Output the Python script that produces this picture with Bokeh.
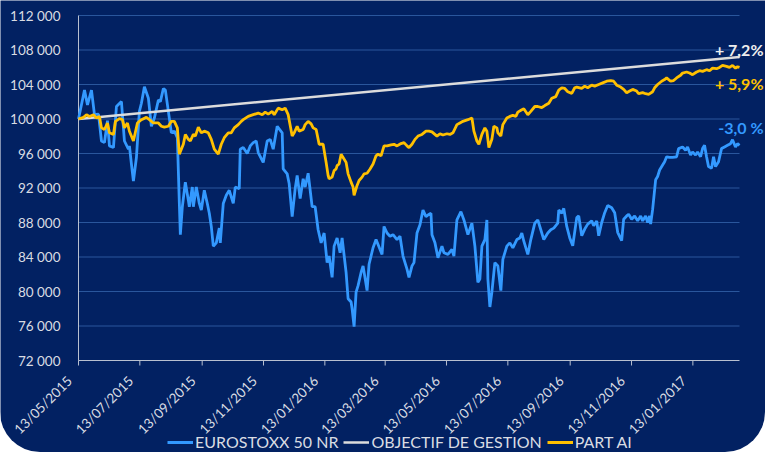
import numpy as np
import pandas as pd
from bokeh.plotting import figure
from bokeh.models import Label, Range1d, Legend, LegendItem
from bokeh.core.properties import value
from bokeh.embed import file_html
from bokeh.resources import INLINE

# ---------------- data ----------------
start_date = "2015-05-13"
# day offsets are read on the picture's time axis (1 unit = 1 px there, 615.3 px = 611 days)
axis_days_per_unit = 611 / 615.3

x_tick_labels = ["13/05/2015", "13/07/2015", "13/09/2015", "13/11/2015", "13/01/2016",
                 "13/03/2016", "13/05/2016", "13/07/2016", "13/09/2016", "13/11/2016",
                 "13/01/2017"]
y_ticks = [72000, 76000, 80000, 84000, 88000, 92000, 96000, 100000, 104000, 108000, 112000]
y_tick_labels = ["72 000", "76 000", "80 000", "84 000", "88 000", "92 000", "96 000",
                 "100 000", "104 000", "108 000", "112 000"]

series_names = ["EUROSTOXX 50 NR", "OBJECTIF DE GESTION", "PART AI"]
end_labels = ["-3,0 %", "+ 7,2%", "+ 5,9%"]

euro_day = [0, 6, 9, 13, 16, 20, 23, 26, 29, 31, 35, 38, 43, 46, 50, 51, 53, 55, 58, 61, 63, 66,
            70, 73, 76, 80, 82, 85, 87, 90, 93, 96, 99, 101, 102, 104, 107, 110, 111, 114, 115,
            118, 121, 123, 126, 129, 131, 133, 135, 138, 141, 142, 145, 148, 151, 155, 157, 161,
            162, 165, 169, 172, 175, 178, 180, 185, 189, 192, 195, 199, 204, 205, 209, 211, 214,
            217, 219, 222, 225, 227, 230, 234, 237, 240, 243, 246, 249, 251, 254, 256, 259, 262,
            264, 268, 270, 273, 274, 276, 278, 280, 283, 285, 289, 291, 295, 298, 300, 304, 306,
            309, 312, 315, 319, 322, 325, 329, 331, 334, 336, 339, 342, 345, 348, 350, 353, 354,
            357, 360, 364, 366, 370, 374, 376, 379, 383, 386, 390, 394, 397, 400, 402, 404, 407,
            409, 410, 412, 414, 417, 420, 423, 425, 429, 432, 435, 439, 442, 444, 446, 450, 453,
            457, 460, 463, 466, 470, 473, 476, 480, 481, 484, 486, 489, 492, 495, 499, 501, 504,
            507, 510, 514, 516, 519, 521, 524, 527, 530, 534, 537, 540, 544, 546, 549, 551, 554,
            557, 560, 563, 565, 568, 570, 572, 573, 575, 578, 580, 582, 585, 587, 589, 592, 595,
            599, 601, 605, 608, 610, 613, 615, 618, 620, 623, 625, 627, 629, 631, 634, 636, 638,
            641, 644, 647, 650, 653, 655, 658, 660, 662]
euro_val = [100000, 103350, 101640, 103350, 100500, 100570, 97450, 97260, 99810, 96880, 96690,
            101450, 102020, 97450, 96500, 96880, 94780, 92800, 95540, 100880, 101830, 103730,
            102400, 99160, 100110, 102210, 102020, 103540, 103350, 100880, 98400, 98590, 97830,
            90210, 86590, 89830, 92680, 90590, 89830, 92110, 89830, 92110, 90210, 89450, 91730,
            90210, 89070, 87540, 85250, 85640, 87350, 85640, 90210, 91160, 91730, 90210, 92110,
            91920, 96500, 96700, 96000, 96880, 97260, 97450, 96110, 94970, 97450, 97640, 96500,
            99160, 98400, 94210, 93640, 92490, 88680, 91920, 93450, 90780, 93070, 92110, 93710,
            89830, 89830, 87160, 85640, 86780, 83350, 84110, 81640, 85260, 86210, 84490, 86210,
            82210, 79160, 78780, 78020, 75920, 79920, 80680, 82210, 82970, 80110, 83160, 85070,
            86020, 85450, 84300, 87540, 86780, 86400, 86590, 86020, 86400, 84110, 82590, 81640,
            82970, 83350, 86780, 87730, 89450, 88680, 88870, 89070, 86590, 85640, 83920, 85250,
            84490, 84300, 84870, 84110, 88300, 89260, 88300, 86590, 87920, 85260, 81070, 81450,
            85260, 86020, 88300, 81450, 78210, 79920, 83350, 82970, 80110, 83730, 85260, 85640,
            85070, 86020, 86210, 86780, 85830, 84300, 86020, 87920, 88300, 87160, 86020, 86780,
            87160, 87350, 87920, 89450, 89070, 89640, 87540, 86210, 85300, 88570, 88760, 86470,
            87240, 87810, 88190, 87620, 88190, 86470, 88000, 89140, 89980, 89710, 89140, 86860,
            85900, 88380, 88760, 88950, 88380, 88760, 88190, 88760, 88190, 88760, 88000, 88760,
            87810, 89520, 92950, 93330, 94090, 94670, 95050, 95620, 95540, 95540, 95620, 96570,
            96760, 96380, 96760, 95810, 96190, 95810, 96190, 95620, 96570, 96950, 95620, 94480,
            94290, 95620, 94480, 95050, 96570, 96760, 96950, 97140, 97600, 96760, 97140, 96950]

goal_day = [0, 662]
goal_val = [100000, 107200]

part_day = [0, 5, 8, 11, 15, 18, 21, 23, 26, 29, 31, 35, 37, 41, 44, 46, 49, 51, 55, 59, 63, 68,
            71, 75, 80, 83, 86, 90, 93, 96, 99, 101, 105, 107, 110, 112, 115, 117, 120, 123, 126,
            130, 133, 136, 140, 143, 146, 150, 153, 156, 160, 163, 165, 170, 175, 180, 184, 187,
            190, 194, 196, 200, 204, 207, 210, 214, 216, 219, 221, 225, 227, 230, 233, 235, 238,
            241, 245, 248, 250, 251, 254, 256, 258, 259, 261, 263, 265, 268, 270, 273, 275, 276,
            279, 281, 284, 286, 289, 292, 295, 298, 300, 303, 306, 309, 313, 316, 319, 323, 326,
            329, 331, 334, 337, 340, 344, 348, 351, 354, 359, 362, 365, 369, 372, 375, 379, 382,
            385, 390, 394, 396, 399, 401, 404, 407, 409, 411, 414, 416, 419, 420, 423, 425, 429,
            432, 435, 438, 440, 444, 446, 450, 453, 457, 460, 464, 467, 471, 474, 478, 481, 484,
            487, 490, 494, 497, 499, 504, 507, 510, 514, 517, 521, 525, 529, 533, 536, 539, 543,
            546, 549, 552, 555, 559, 561, 565, 568, 571, 575, 577, 580, 584, 587, 589, 593, 596,
            599, 603, 605, 609, 612, 615, 619, 622, 625, 629, 632, 635, 639, 642, 645, 649, 652,
            655, 658, 660, 662]
part_val = [100000, 100190, 100500, 100300, 100500, 100110, 100300, 98970, 98780, 99540, 98400,
            98210, 99730, 100040, 99920, 98970, 99540, 98590, 97450, 99540, 99920, 100190, 99920,
            99540, 99540, 99160, 99050, 99160, 99730, 99730, 98970, 95920, 97070, 98210, 97640,
            97450, 98210, 98020, 99050, 98400, 98590, 98400, 97640, 96500, 95920, 97070, 97830,
            98400, 98400, 98970, 99350, 99730, 99920, 100300, 100500, 100690, 100500, 100800,
            100570, 100880, 100500, 101260, 101070, 101260, 100500, 98020, 98400, 99160, 98590,
            98780, 99350, 99730, 99430, 98970, 98780, 97070, 97070, 94970, 93450, 93070, 93260,
            94020, 94210, 94590, 94780, 95920, 95540, 94970, 93640, 92680, 92110, 91160, 92300,
            92870, 93260, 93640, 93710, 94210, 94780, 95730, 95920, 95730, 96880, 96880, 96990,
            97070, 96880, 97150, 97260, 96880, 96690, 97070, 97640, 98020, 98210, 98590, 98590,
            98510, 98020, 98290, 98140, 98290, 98210, 98400, 99350, 99540, 99730, 99920, 100110,
            98590, 97450, 97070, 98210, 98970, 98590, 96690, 97640, 99160, 98970, 98400, 98020,
            99350, 100110, 100300, 100420, 100300, 100800, 101070, 101180, 100500, 100880, 101450,
            101450, 101330, 101560, 101830, 102400, 102590, 103350, 103620, 103540, 103160, 102970,
            103620, 103700, 103540, 103810, 103620, 103920, 103810, 104000, 104190, 104380, 104460,
            104380, 103920, 103700, 103430, 103050, 103240, 103430, 103240, 102930, 103050, 102930,
            102860, 103160, 103620, 104000, 104380, 104570, 104760, 104380, 104460, 104760, 105070,
            105330, 105450, 105330, 105140, 105450, 105600, 105520, 105720, 105600, 105900, 105830,
            105980, 106210, 106100, 105980, 106210, 105900, 106060, 105980]

# ---------------- layout & style ----------------
FIG_W, FIG_H = 765, 452
LEFT, TOP = 78, 15           # where the plotting area (axis lines) starts
AREA_W, AREA_H = 661, 345    # size of the plotting area

BG = "#022162"
GRID = "#2a569c"
AXIS = "#b8c0d0"
TEXT = "#d9dce3"
BLUE = "#3399ff"
WHITE = "#dcdcdc"
GOLD = "#ffc000"
FONT = "Lato"

t0 = pd.Timestamp(start_date)


def to_dates(days):
    return [t0 + pd.Timedelta(days=float(d) * axis_days_per_unit) for d in days]


euro_x = to_dates(euro_day)
goal_x = to_dates(goal_day)
part_x = to_dates(part_day)
t_end = euro_x[-1]
tick_dates = list(pd.to_datetime(x_tick_labels, format="%d/%m/%Y"))

# The frame covers the whole figure so that axis texts, legend and end labels drawn
# in it are never clipped; the scales are set so the data area sits where it should.
span = t_end - t0
x_lo = t0 - span * (LEFT / AREA_W)
x_hi = t0 + span * ((FIG_W - LEFT) / AREA_W)
y_per_px = (y_ticks[-1] - y_ticks[0]) / AREA_H
y_hi = y_ticks[-1] + y_per_px * TOP
y_lo = y_ticks[-1] - y_per_px * (FIG_H - TOP)

p = figure(width=FIG_W, height=FIG_H, x_axis_location=None, y_axis_location=None,
           x_range=Range1d(x_lo, x_hi), y_range=Range1d(y_lo, y_hi),
           output_backend="svg", toolbar_location=None,
           min_border_left=0, min_border_right=0, min_border_top=0, min_border_bottom=0)
p.background_fill_color = BG
p.border_fill_color = BG
p.outline_line_color = None
p.xgrid.visible = False
p.ygrid.visible = False
p.styles = {"border-radius": "0 0 40px 40px", "overflow": "hidden"}

n_y = len(y_ticks)
n_x = len(tick_dates)

# horizontal grid lines over the data area
grid_y = y_ticks[1:]
p.segment(x0=[t0] * len(grid_y), y0=grid_y, x1=[t_end] * len(grid_y), y1=grid_y,
          line_color=GRID, line_width=1)

# y axis: line + labels
p.segment(x0=[t0], y0=[y_ticks[0]], x1=[t0], y1=[y_ticks[-1]], line_color=AXIS, line_width=1)
p.text(x=[t0] * n_y, y=y_ticks, text=y_tick_labels, text_align="right",
       text_baseline="middle", x_offset=-18, text_color=TEXT, text_font=value(FONT),
       text_font_size=value("13.5px"))

# x axis: line, ticks and rotated labels (offsets are in the rotated text frame)
tick_len = 5 * y_per_px
p.segment(x0=[t0], y0=[y_ticks[0]], x1=[t_end], y1=[y_ticks[0]], line_color=AXIS, line_width=1)
p.segment(x0=tick_dates, y0=[y_ticks[0]] * n_x, x1=tick_dates,
          y1=[y_ticks[0] - tick_len] * n_x, line_color=AXIS, line_width=1)
p.text(x=tick_dates, y=[y_ticks[0]] * n_x, text=x_tick_labels, angle=np.pi / 4,
       text_align="right", text_baseline="middle", x_offset=-9, y_offset=18,
       text_color=TEXT, text_font=value(FONT), text_font_size=value("13.5px"))

# series
r_euro = p.line(euro_x, euro_val, line_color=BLUE, line_width=2.8)
r_goal = p.line(goal_x, goal_val, line_color=WHITE, line_width=2.5)
r_part = p.line(part_x, part_val, line_color=GOLD, line_width=2.8)

legend = Legend(items=[LegendItem(label=series_names[0], renderers=[r_euro]),
                       LegendItem(label=series_names[1], renderers=[r_goal]),
                       LegendItem(label=series_names[2], renderers=[r_part])],
                location=(167, 1), orientation="horizontal",
                glyph_width=26, glyph_height=18, label_standoff=2, spacing=5, padding=0,
                margin=0, background_fill_alpha=0, border_line_alpha=0,
                label_text_color=TEXT, label_text_font=FONT, label_text_font_size="16px",
                label_height=18)
p.add_layout(legend)

# end-of-series annotations
for xs, ys, txt, col, dy in [(euro_x, euro_val, end_labels[0], BLUE, 18),
                             (goal_x, goal_val, end_labels[1], "#eeeeee", 7),
                             (part_x, part_val, end_labels[2], GOLD, -16)]:
    p.add_layout(Label(x=xs[-1], y=ys[-1], text=txt, x_offset=24, y_offset=dy,
                       text_align="right", text_baseline="middle", text_color=col,
                       text_font=FONT, text_font_style="bold", text_font_size="16px"))

open("out.html", "w").write(file_html(p, INLINE))
